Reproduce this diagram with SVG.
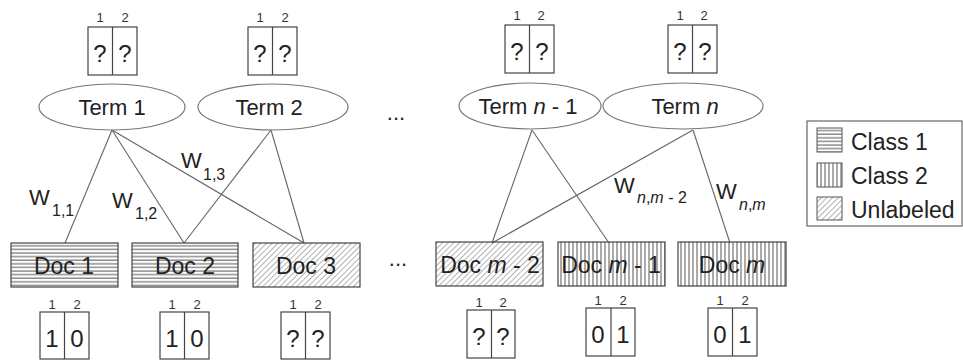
<svg xmlns="http://www.w3.org/2000/svg" width="963" height="361" viewBox="0 0 963 361">
<defs>
<pattern id="pH" patternUnits="userSpaceOnUse" width="4" height="3.6"><line x1="0" y1="1" x2="4" y2="1" stroke="#555" stroke-width="1"/></pattern>
<pattern id="pV" patternUnits="userSpaceOnUse" width="4" height="4"><line x1="1" y1="0" x2="1" y2="4" stroke="#555" stroke-width="1"/></pattern>
<pattern id="pD" patternUnits="userSpaceOnUse" width="4" height="4" patternTransform="rotate(45)"><line x1="0" y1="0" x2="0" y2="4" stroke="#666" stroke-width="1"/></pattern>
</defs>
<style>
text{font-family:"Liberation Sans",Arial,sans-serif;fill:#222}
.term{font-size:22px;text-anchor:middle}
.doc{font-size:23px;text-anchor:middle}
.cell{font-size:24px;text-anchor:middle}
.col{font-size:13px;text-anchor:middle;fill:#333}
.w{font-size:22px}
.sub{font-size:16px}
.leg{font-size:23px}
.ell{fill:#fff;stroke:#777;stroke-width:1.2}
.box{fill:#fff;stroke:#444;stroke-width:1.2}
.dr{stroke:#444;stroke-width:1.2}
.edge{stroke:#666;stroke-width:1.1;fill:none}
</style>
<rect width="963" height="361" fill="#fff"/>

<g id="connectors">
<line class="edge" x1="112" y1="130" x2="65" y2="243"/>
<line class="edge" x1="112" y1="130" x2="184" y2="243"/>
<line class="edge" x1="112" y1="130" x2="304" y2="243"/>
<line class="edge" x1="271" y1="130" x2="184" y2="243"/>
<line class="edge" x1="271" y1="130" x2="304" y2="243"/>
<line class="edge" x1="532" y1="130" x2="492" y2="243"/>
<line class="edge" x1="532" y1="130" x2="609" y2="243"/>
<line class="edge" x1="693" y1="130" x2="492" y2="243"/>
<line class="edge" x1="693" y1="130" x2="730" y2="243"/>
</g>

<g id="edge-labels">
<text class="w" x="29" y="205">W</text><text class="sub" x="52" y="216">1,1</text>
<text class="w" x="112" y="208">W</text><text class="sub" x="135" y="219">1,2</text>
<text class="w" x="181" y="168">W</text><text class="sub" x="203" y="180">1,3</text>
<text class="w" x="614" y="193">W</text><text class="sub" x="637" y="203"><tspan font-style="italic">n</tspan>,<tspan font-style="italic">m</tspan> - 2</text>
<text class="w" x="716" y="199">W</text><text class="sub" x="739" y="210"><tspan font-style="italic">n</tspan>,<tspan font-style="italic">m</tspan></text>
</g>

<g id="term1">
<text class="col" x="100" y="22">1</text><text class="col" x="125" y="22">2</text>
<rect class="box" x="88" y="27" width="49" height="48"/><line class="dr" x1="112.5" y1="27" x2="112.5" y2="75"/>
<text class="cell" x="100" y="62">?</text><text class="cell" x="125" y="62">?</text>
<ellipse class="ell" cx="112" cy="107" rx="73" ry="23"/>
<text class="term" x="112" y="115">Term 1</text>
</g>
<g id="term2">
<text class="col" x="260" y="22">1</text><text class="col" x="285" y="22">2</text>
<rect class="box" x="248" y="27" width="49" height="48"/><line class="dr" x1="272.5" y1="27" x2="272.5" y2="75"/>
<text class="cell" x="260" y="62">?</text><text class="cell" x="285" y="62">?</text>
<ellipse class="ell" cx="273" cy="107" rx="75" ry="23"/>
<text class="term" x="269" y="115">Term 2</text>
</g>
<g id="term-dots"><text class="term" x="396" y="120">...</text></g>
<g id="termn1">
<text class="col" x="517" y="20">1</text><text class="col" x="541" y="20">2</text>
<rect class="box" x="505" y="25" width="49" height="48"/><line class="dr" x1="529.5" y1="25" x2="529.5" y2="73"/>
<text class="cell" x="517" y="60">?</text><text class="cell" x="542" y="60">?</text>
<ellipse class="ell" cx="530" cy="106" rx="71" ry="23"/>
<text class="term" x="528" y="114">Term <tspan font-style="italic">n</tspan> - 1</text>
</g>
<g id="termn">
<text class="col" x="680" y="20">1</text><text class="col" x="704" y="20">2</text>
<rect class="box" x="668" y="25" width="49" height="48"/><line class="dr" x1="692.5" y1="25" x2="692.5" y2="73"/>
<text class="cell" x="680" y="60">?</text><text class="cell" x="705" y="60">?</text>
<ellipse class="ell" cx="683" cy="106" rx="80" ry="23"/>
<text class="term" x="685" y="114">Term <tspan font-style="italic">n</tspan></text>
</g>

<g id="doc1">
<rect x="11" y="243" width="107" height="44" fill="url(#pH)" stroke="#444" stroke-width="1.2"/>
<text class="doc" x="64" y="274">Doc 1</text>
<text class="col" x="52" y="309">1</text><text class="col" x="77" y="309">2</text>
<rect class="box" x="40" y="312" width="49" height="47"/><line class="dr" x1="64.5" y1="312" x2="64.5" y2="359"/>
<text class="cell" x="52" y="347">1</text><text class="cell" x="77" y="347">0</text>
</g>
<g id="doc2">
<rect x="132" y="243" width="106" height="44" fill="url(#pH)" stroke="#444" stroke-width="1.2"/>
<text class="doc" x="185" y="274">Doc 2</text>
<text class="col" x="172" y="309">1</text><text class="col" x="197" y="309">2</text>
<rect class="box" x="160" y="312" width="49" height="47"/><line class="dr" x1="184.5" y1="312" x2="184.5" y2="359"/>
<text class="cell" x="172" y="347">1</text><text class="cell" x="197" y="347">0</text>
</g>
<g id="doc3">
<rect x="253" y="243" width="107" height="44" fill="url(#pD)" stroke="#444" stroke-width="1.2"/>
<text class="doc" x="306" y="274">Doc 3</text>
<text class="col" x="293" y="309">1</text><text class="col" x="318" y="309">2</text>
<rect class="box" x="281" y="312" width="49" height="47"/><line class="dr" x1="305.5" y1="312" x2="305.5" y2="359"/>
<text class="cell" x="293" y="347">?</text><text class="cell" x="318" y="347">?</text>
</g>
<g id="doc-dots"><text class="term" x="398" y="266">...</text></g>
<g id="docm2">
<rect x="436" y="242" width="107" height="44" fill="url(#pD)" stroke="#444" stroke-width="1.2"/>
<text class="doc" x="490" y="273">Doc <tspan font-style="italic">m</tspan> - 2</text>
<text class="col" x="479" y="307">1</text><text class="col" x="503" y="307">2</text>
<rect class="box" x="467" y="310" width="48" height="48"/><line class="dr" x1="491.5" y1="310" x2="491.5" y2="358"/>
<text class="cell" x="479" y="345">?</text><text class="cell" x="503" y="345">?</text>
</g>
<g id="docm1">
<rect x="558" y="242" width="107" height="44" fill="url(#pV)" stroke="#444" stroke-width="1.2"/>
<text class="doc" x="611" y="273">Doc <tspan font-style="italic">m</tspan> - 1</text>
<text class="col" x="598" y="305">1</text><text class="col" x="623" y="305">2</text>
<rect class="box" x="586" y="308" width="49" height="48"/><line class="dr" x1="611" y1="308" x2="611" y2="356"/>
<text class="cell" x="598" y="343">0</text><text class="cell" x="623" y="343">1</text>
</g>
<g id="docm">
<rect x="678" y="242" width="108" height="44" fill="url(#pV)" stroke="#444" stroke-width="1.2"/>
<text class="doc" x="732" y="273">Doc <tspan font-style="italic">m</tspan></text>
<text class="col" x="720" y="305">1</text><text class="col" x="745" y="305">2</text>
<rect class="box" x="708" y="308" width="49" height="48"/><line class="dr" x1="732.5" y1="308" x2="732.5" y2="356"/>
<text class="cell" x="720" y="343">0</text><text class="cell" x="745" y="343">1</text>
</g>

<g id="legend">
<rect x="807" y="121" width="155" height="105" fill="#fff" stroke="#666" stroke-width="1.2"/>
<rect x="817" y="128" width="25" height="24" fill="url(#pH)" stroke="#555"/>
<text class="leg" x="851" y="150">Class 1</text>
<rect x="817" y="163" width="25" height="24" fill="url(#pV)" stroke="#555"/>
<text class="leg" x="851" y="184">Class 2</text>
<rect x="817" y="197" width="25" height="23" fill="url(#pD)" stroke="#555"/>
<text class="leg" x="851" y="218">Unlabeled</text>
</g>
</svg>
